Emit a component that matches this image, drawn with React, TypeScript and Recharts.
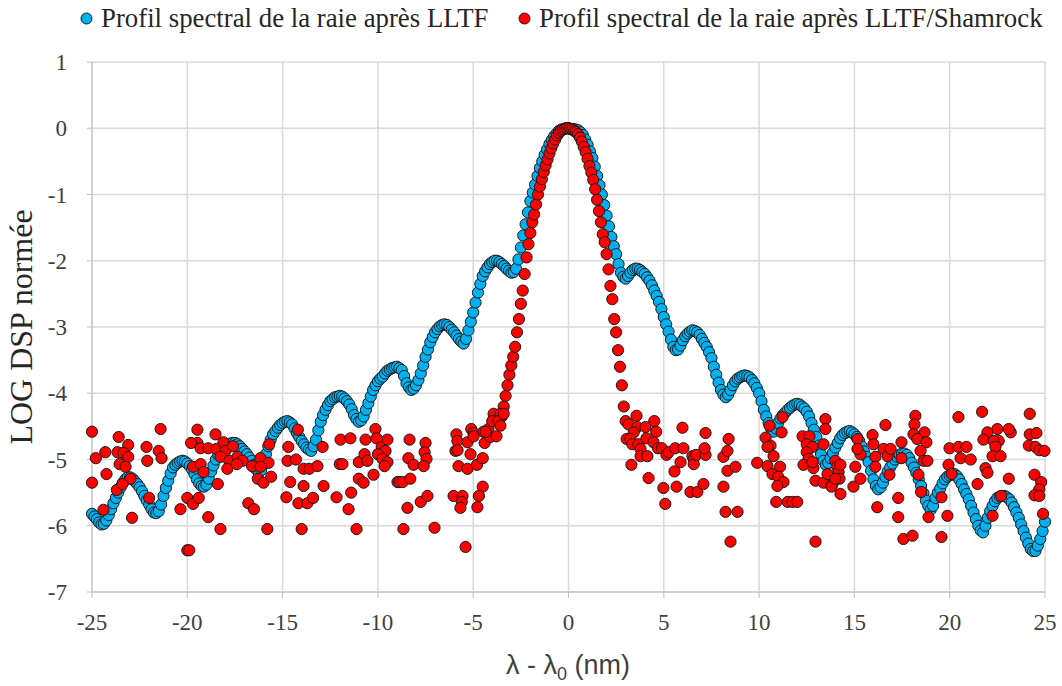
import { ScatterChart, Scatter, XAxis, YAxis, CartesianGrid } from "recharts";

// blue series: LLTF profile, sampled every 0.125 nm from -25 nm (one row = 1 nm)
const BLUE_START = -25;
const BLUE_STEP = 0.125;
const blueY = [
  -5.82, -5.86, -5.9, -5.95, -5.98, -5.97, -5.92, -5.84,
  -5.75, -5.66, -5.58, -5.5, -5.42, -5.35, -5.3, -5.27,
  -5.27, -5.29, -5.33, -5.37, -5.42, -5.48, -5.55, -5.62,
  -5.68, -5.75, -5.8, -5.81, -5.78, -5.68, -5.55, -5.43,
  -5.32, -5.21, -5.12, -5.08, -5.05, -5.03, -5.02, -5.03,
  -5.06, -5.1, -5.15, -5.22, -5.3, -5.36, -5.4, -5.41,
  -5.38, -5.29, -5.18, -5.09, -5.0, -4.93, -4.88, -4.84,
  -4.8, -4.78, -4.76, -4.75, -4.75, -4.77, -4.8, -4.84,
  -4.88, -4.92, -4.97, -5.02, -5.08, -5.15, -5.2, -5.16,
  -5.05, -4.92, -4.8, -4.7, -4.62, -4.57, -4.52, -4.48,
  -4.45, -4.43, -4.42, -4.44, -4.47, -4.53, -4.6, -4.66,
  -4.72, -4.77, -4.82, -4.85, -4.87, -4.8, -4.7, -4.56,
  -4.43, -4.33, -4.25, -4.18, -4.12, -4.09, -4.06, -4.05,
  -4.04, -4.05, -4.08, -4.12, -4.17, -4.24, -4.33, -4.39,
  -4.43, -4.41, -4.35, -4.25, -4.15, -4.05, -3.95, -3.88,
  -3.82, -3.78, -3.75, -3.7, -3.66, -3.64, -3.62, -3.61,
  -3.6, -3.62, -3.65, -3.74, -3.85, -3.91, -3.95, -3.93,
  -3.88, -3.8, -3.7, -3.58, -3.45, -3.34, -3.23, -3.15,
  -3.08, -3.03, -2.99, -2.97, -2.96, -2.97, -3.0, -3.04,
  -3.08, -3.13, -3.18, -3.22, -3.25, -3.18, -3.05, -2.92,
  -2.78, -2.63, -2.48, -2.35, -2.23, -2.16, -2.1, -2.05,
  -2.02, -2.0, -2.0, -2.02, -2.05, -2.08, -2.12, -2.15,
  -2.18, -2.17, -2.12, -1.98, -1.8, -1.62, -1.45, -1.27,
  -1.1, -0.97, -0.85, -0.72, -0.6, -0.5, -0.4, -0.32,
  -0.24, -0.18, -0.12, -0.08, -0.04, -0.02, -0.01, 0,
  0, -0.01, -0.01, -0.02, -0.03, -0.06, -0.1, -0.17,
  -0.25, -0.35, -0.45, -0.58, -0.72, -0.86, -1.0, -1.16,
  -1.32, -1.48, -1.64, -1.78, -1.9, -2.05, -2.18, -2.24,
  -2.27, -2.23, -2.18, -2.14, -2.12, -2.12, -2.14, -2.17,
  -2.2, -2.25, -2.3, -2.37, -2.45, -2.53, -2.62, -2.73,
  -2.85, -2.96, -3.07, -3.19, -3.3, -3.35, -3.34, -3.28,
  -3.2, -3.14, -3.1, -3.07, -3.05, -3.06, -3.08, -3.12,
  -3.18, -3.24, -3.3, -3.38, -3.47, -3.6, -3.72, -3.84,
  -3.95, -4.02, -4.06, -4.02, -3.95, -3.88, -3.82, -3.78,
  -3.76, -3.74, -3.73, -3.74, -3.76, -3.8, -3.85, -3.92,
  -4.0, -4.12, -4.25, -4.35, -4.45, -4.53, -4.58, -4.53,
  -4.45, -4.38, -4.33, -4.29, -4.25, -4.22, -4.19, -4.17,
  -4.16, -4.17, -4.2, -4.23, -4.28, -4.35, -4.45, -4.55,
  -4.66, -4.79, -4.92, -5.02, -5.08, -5.05, -4.98, -4.9,
  -4.82, -4.75, -4.68, -4.63, -4.6, -4.58, -4.57, -4.59,
  -4.62, -4.66, -4.72, -4.8, -4.88, -4.96, -5.04, -5.17,
  -5.3, -5.4, -5.45, -5.42, -5.35, -5.26, -5.18, -5.12,
  -5.06, -5.0, -4.96, -4.93, -4.91, -4.91, -4.93, -4.98,
  -5.05, -5.12, -5.2, -5.3, -5.4, -5.51, -5.62, -5.7,
  -5.76, -5.7, -5.58, -5.5, -5.44, -5.36, -5.3, -5.26,
  -5.24, -5.22, -5.22, -5.25, -5.3, -5.37, -5.45, -5.52,
  -5.6, -5.7, -5.8, -5.9, -6.0, -6.07, -6.1, -6.0,
  -5.88, -5.78, -5.7, -5.63, -5.58, -5.56, -5.55, -5.55,
  -5.57, -5.6, -5.65, -5.72, -5.8, -5.88, -5.98, -6.08,
  -6.18, -6.27, -6.35, -6.38, -6.38, -6.3, -6.2, -6.08,
  -5.94,
];

// red series: LLTF/Shamrock, central peak sampled every 0.1 nm from -3.5 nm
const RED_PEAK_START = -3.5;
const RED_PEAK_STEP = 0.1;
const redPeakY = [
  -4.35, -4.2, -4.04, -3.88, -3.72, -3.58, -3.45, -3.3, -3.08, -2.88, -2.65, -2.45, -2.2, -1.95, -1.75, -1.58, -1.42, -1.3, -1.15, -1.0,
  -0.88, -0.77, -0.66, -0.56, -0.47, -0.38, -0.3, -0.23, -0.17, -0.11, -0.07, -0.04, -0.02, -0.01, 0, 0, -0.01, -0.02, -0.04, -0.06,
  -0.09, -0.14, -0.2, -0.28, -0.36, -0.46, -0.57, -0.67, -0.78, -0.92, -1.08, -1.25, -1.42, -1.6, -1.72, -1.9, -2.13, -2.38, -2.58, -2.88,
  -3.08, -3.35, -3.6, -3.88, -4.2, -4.42,
];

// red series: noise floor points [x, y]
const redNoise: [number, number][] = [
  [-25.0, -4.58], [-21.4, -4.54], [-19.47, -4.55], [-18.52, -4.62], [-23.6, -4.66], [-23.1, -4.78], [-24.3, -4.89], [-24.8, -4.98],
  [-23.66, -4.89], [-23.35, -4.9], [-23.1, -4.96], [-23.55, -5.07], [-23.24, -5.11], [-22.14, -4.81], [-22.1, -5.02], [-21.5, -4.87],
  [-21.35, -4.98], [-25.0, -5.35], [-24.24, -5.22], [-22.98, -5.29], [-23.7, -5.46], [-23.4, -5.37], [-24.4, -5.76], [-22.9, -5.88],
  [-22.0, -5.58], [-19.47, -4.75], [-19.8, -4.75], [-19.3, -4.83], [-18.9, -4.83], [-18.47, -4.84], [-18.1, -4.74], [-18.0, -4.87],
  [-17.6, -4.8], [-18.26, -4.96], [-17.8, -5.02], [-17.37, -4.96], [-17.1, -5.02], [-16.6, -5.1], [-17.9, -5.14], [-17.4, -5.07],
  [-19.7, -5.11], [-19.3, -5.07], [-19.15, -5.19], [-18.4, -5.37], [-20.0, -5.58], [-19.7, -5.67], [-19.4, -5.58], [-20.36, -5.75],
  [-18.9, -5.87], [-18.26, -6.05], [-20.0, -6.37], [-19.9, -6.37], [-16.8, -5.66], [-16.5, -5.75],
  [-14.2, -4.55], [-14.7, -4.81], [-15.7, -4.77], [-16.16, -4.98], [-15.74, -5.05], [-16.16, -5.11], [-16.3, -5.29], [-16.0, -5.35],
  [-15.6, -5.26], [-15.8, -6.05], [-14.74, -5.02], [-14.3, -5.0], [-14.6, -5.34], [-14.8, -5.57], [-14.17, -5.66], [-13.7, -5.66],
  [-13.4, -5.58], [-14.0, -6.05], [-13.9, -5.14], [-13.6, -5.14], [-13.17, -5.1], [-13.9, -5.4], [-12.9, -4.81], [-12.85, -5.4],
  [-12.17, -5.57], [-11.96, -4.7], [-11.44, -4.68], [-12.0, -5.07], [-11.86, -5.07], [-11.4, -5.5], [-11.54, -5.75], [-11.12, -6.05],
  [-11.0, -5.29], [-10.75, -5.35], [-11.0, -5.04], [-10.7, -4.92], [-10.55, -5.02], [-10.65, -4.7], [-10.23, -5.23], [-10.13, -4.54],
  [-10.07, -4.68], [-9.8, -4.81], [-9.6, -4.87], [-9.5, -4.7], [-10.0, -4.92], [-9.76, -4.99], [-9.5, -5.04], [-9.65, -5.1],
  [-8.97, -5.34], [-8.87, -5.34], [-8.7, -5.34], [-8.3, -5.29], [-8.34, -4.7], [-8.4, -4.98], [-8.13, -5.08], [-8.45, -5.73],
  [-8.66, -6.05], [-7.75, -5.64],
  [-7.5, -4.75], [-7.55, -4.89], [-7.45, -4.99], [-7.6, -5.1], [-7.4, -5.55], [-7.03, -6.03], [-5.88, -4.62], [-5.83, -4.72],
  [-5.93, -4.87], [-5.82, -4.86], [-5.1, -4.54], [-4.98, -4.6], [-5.3, -4.74], [-4.98, -4.65], [-5.14, -4.92], [-4.46, -4.58],
  [-4.4, -4.75], [-5.77, -5.1], [-5.3, -5.14], [-4.8, -5.08], [-4.5, -4.98], [-4.5, -5.41], [-4.7, -5.55], [-4.78, -5.72],
  [-6.03, -5.55], [-5.56, -5.55], [-5.6, -5.64], [-5.67, -5.73], [-5.4, -6.32], [-4.2, -4.54], [-4.1, -4.66], [-3.78, -4.65],
  [-3.93, -4.31], [-3.57, -4.31], [-4.0, -4.42], [-3.67, -4.42], [-3.4, -4.31], [-3.57, -4.49], [-4.35, -4.58],
  [3.15, -4.47], [3.57, -4.34], [3.6, -4.51], [3.42, -4.59], [3.05, -4.69], [3.25, -4.69], [3.35, -4.77], [3.67, -4.77],
  [3.78, -4.84], [3.78, -4.95], [4.14, -4.95], [4.04, -4.51], [4.09, -4.68], [4.5, -4.42], [4.6, -4.58], [4.46, -4.74],
  [4.7, -4.83], [4.9, -4.83], [5.14, -4.93], [5.25, -4.89], [5.6, -4.83], [6.03, -4.83], [5.98, -4.52], [5.88, -5.04],
  [5.56, -5.18], [6.5, -4.95], [6.57, -4.99], [6.57, -5.07], [6.7, -4.93], [7.19, -4.93], [7.14, -4.83], [7.19, -4.6],
  [3.3, -5.08], [4.2, -5.28], [4.98, -5.43], [5.67, -5.41], [5.08, -5.67], [6.4, -5.49], [6.76, -5.49], [7.08, -5.37],
  [8.13, -4.96], [8.34, -5.17], [8.4, -4.69], [8.34, -4.87], [8.13, -5.41], [8.24, -5.79], [8.5, -6.24],
  [8.76, -5.11], [8.87, -5.79], [9.9, -5.05], [10.44, -5.1], [10.55, -4.49], [10.34, -4.67], [10.6, -4.79], [10.76, -4.95],
  [10.44, -4.81], [11.23, -4.36], [11.18, -4.59], [10.7, -5.22], [11.1, -5.11], [11.0, -5.26], [11.28, -5.34], [10.96, -5.4],
  [10.9, -5.64], [11.5, -5.64], [11.75, -5.64], [12.0, -5.64], [12.28, -4.65], [12.64, -4.65], [12.5, -4.77], [12.8, -4.81],
  [12.5, -4.89], [12.6, -4.99], [12.33, -5.08], [12.85, -5.13], [12.8, -5.04], [12.96, -5.32], [13.38, -5.35], [13.48, -4.39],
  [13.48, -4.54], [13.38, -4.77], [12.96, -6.24], [13.59, -5.22], [13.85, -5.37], [13.8, -5.41], [14.0, -5.02], [14.1, -5.11],
  [14.17, -5.19], [14.27, -5.08], [14.22, -5.29], [14.0, -5.29], [14.27, -5.52], [14.95, -5.41], [15.05, -5.11], [15.32, -5.29],
  [15.16, -4.69], [15.32, -4.92], [15.16, -4.84], [15.95, -4.63], [16.0, -4.77], [16.1, -4.96], [16.1, -5.11], [16.53, -4.84],
  [16.63, -4.48], [16.2, -5.72], [16.74, -4.95],
  [16.9, -4.84], [16.84, -5.23], [17.47, -4.74], [17.47, -4.98], [17.3, -5.58], [17.3, -5.87], [17.57, -6.2], [18.05, -6.15],
  [18.2, -4.34], [18.15, -4.47], [18.1, -4.62], [18.68, -4.59], [18.3, -4.69], [18.78, -4.74], [18.47, -4.87], [18.63, -5.02],
  [18.83, -5.02], [18.36, -5.23], [18.5, -5.49], [19.57, -5.57], [18.89, -5.87], [19.88, -5.85], [19.57, -6.17], [19.99, -4.83],
  [19.94, -5.08], [20.1, -5.22], [20.46, -4.36], [20.46, -4.81], [20.88, -4.81], [20.57, -4.98], [21.1, -5.0], [21.46, -5.37],
  [21.7, -4.28], [21.98, -4.59], [21.77, -4.7], [21.88, -5.13], [21.98, -5.2], [22.25, -5.85], [22.7, -5.55], [22.5, -4.54],
  [22.57, -4.72], [22.3, -4.72], [22.4, -4.81], [22.25, -4.95], [22.67, -4.95], [23.2, -4.59], [23.1, -4.54], [23.1, -5.29],
  [24.2, -4.31], [24.2, -4.62], [24.55, -4.6], [24.15, -4.79], [24.5, -4.81], [24.7, -4.86], [24.97, -4.87], [24.45, -5.23],
  [24.8, -5.34], [24.7, -5.45], [24.45, -5.54], [24.7, -5.55], [24.9, -5.82],
];

const xTicks = [-25, -20, -15, -10, -5, 0, 5, 10, 15, 20, 25];
const yTicks = [-7, -6, -5, -4, -3, -2, -1, 0, 1];

const BLUE = "#00b0f0";
const RED = "#ff0000";

const blueData = blueY.map((y, i) => ({ x: BLUE_START + i * BLUE_STEP, y }));
const redData = [
  ...redPeakY.map((y, i) => ({ x: RED_PEAK_START + i * RED_PEAK_STEP, y })),
  ...redNoise.map(([x, y]) => ({ x, y })),
];

const dot = (fill: string) => (props: any) =>
  <circle cx={props.cx} cy={props.cy} r={5.6} fill={fill} stroke="#1a1a1a" strokeWidth={1} />;

const tickStyle = { fill: "#3f3f3f", fontSize: 23, fontFamily: "'Liberation Serif', 'Times New Roman', serif" };

function XTitle() {
  return (
    <text x={568} y={674} textAnchor="middle" fill="#3f3f3f" fontSize={27} fontFamily="'Liberation Sans', Arial, sans-serif">
      λ - λ<tspan dy={6} fontSize={18}>0</tspan><tspan dy={-6}> (nm)</tspan>
    </text>
  );
}

function YTitle() {
  return (
    <text transform="translate(32, 327) rotate(-90)" textAnchor="middle" fill="#262626" fontSize={32} fontFamily="'Liberation Serif', 'Times New Roman', serif">
      LOG DSP normée
    </text>
  );
}

function LegendItem({ color, label, left }: { color: string; label: string; left: number }) {
  return (
    <div style={{ position: "absolute", left, top: 0, height: 36, display: "flex", alignItems: "center" }}>
      <svg width={13} height={13} style={{ marginRight: 8 }}>
        <circle cx={6.5} cy={6.5} r={5.5} fill={color} stroke="#1a1a1a" strokeWidth={1} />
      </svg>
      <span style={{ fontFamily: "'Liberation Serif', 'Times New Roman', serif", fontSize: 26.8, color: "#262626", whiteSpace: "nowrap" }}>
        {label}
      </span>
    </div>
  );
}

export default function App() {
  return (
    <div style={{ position: "absolute", left: 0, top: 0, width: 1062, height: 686, background: "#fff" }}>
      <LegendItem color={BLUE} label="Profil spectral de la raie après LLTF" left={80} />
      <LegendItem color={RED} label="Profil spectral de la raie après LLTF/Shamrock" left={518} />
      <ScatterChart width={1062} height={686} margin={{ top: 62, right: 17, bottom: 0, left: 0 }}>
        <CartesianGrid stroke="#d9d9d9" strokeWidth={1.5} />
        <XAxis
          type="number"
          dataKey="x"
          domain={[-25, 25]}
          ticks={xTicks}
          height={94}
          tickSize={6}
          tickMargin={16}
          stroke="#bfbfbf"
          tick={tickStyle}
          label={{ content: () => <XTitle /> }}
        />
        <YAxis
          type="number"
          dataKey="y"
          domain={[-7, 1]}
          ticks={yTicks}
          width={92}
          tickSize={5}
          tickMargin={20}
          stroke="#bfbfbf"
          tick={tickStyle}
          label={{ content: () => <YTitle /> }}
        />
        <Scatter data={blueData} shape={dot(BLUE)} isAnimationActive={false} />
        <Scatter data={redData} shape={dot(RED)} isAnimationActive={false} />
      </ScatterChart>
    </div>
  );
}
